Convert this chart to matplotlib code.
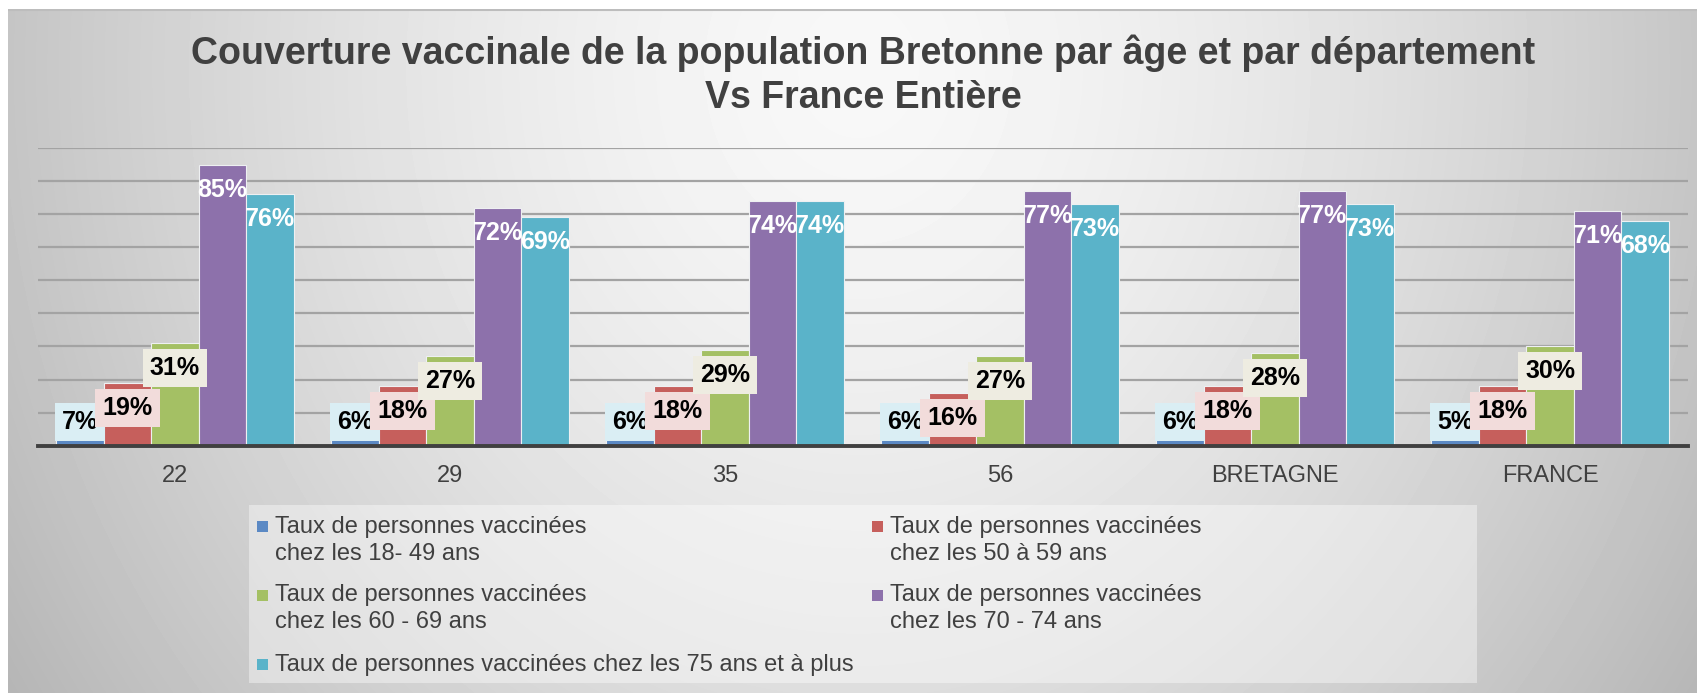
import matplotlib
matplotlib.use("Agg")
import matplotlib.pyplot as plt
import numpy as np
from matplotlib.patches import Rectangle

plt.rcParams['font.family'] = ['Liberation Sans', 'DejaVu Sans']

# data
categories = ['22', '29', '35', '56', 'BRETAGNE', 'FRANCE']
t18_49_label = [7, 6, 6, 6, 6, 5]
t18_49_bar = [2.2, 2.2, 2.2, 2.2, 2.2, 2.2]   # bars drawn shorter than their labels
t50_59 = [19, 18, 18, 16, 18, 18]
t60_69 = [31, 27, 29, 27, 28, 30]
t70_74 = [85, 72, 74, 77, 77, 71]
t75_plus = [76, 69, 74, 73, 73, 68]

series_names = ['Taux de personnes vaccinées\nchez les 18- 49 ans',
                'Taux de personnes vaccinées\nchez les 50 à 59 ans',
                'Taux de personnes vaccinées\nchez les 60 - 69 ans',
                'Taux de personnes vaccinées\nchez les 70 - 74 ans',
                'Taux de personnes vaccinées chez les 75 ans et à plus']

bar_heights = [t18_49_bar, t50_59, t60_69, t70_74, t75_plus]
bar_labels = [t18_49_label, t50_59, t60_69, t70_74, t75_plus]
colors = ['#5b89c4', '#c65f5c', '#a4c064', '#8d71ab', '#5ab3c9']
label_box = ['#daeef4', '#f2dcdb', '#eeece1', None, None]
label_color = ['black', 'black', 'black', 'white', 'white']

W, H = 1697, 693
fig = plt.figure(figsize=(W / 100, H / 100), dpi=100)
fig.patch.set_facecolor('white')

# slide background with a soft radial gradient
bg = fig.add_axes([8 / W, 0, 1 - 8 / W, 1 - 9 / H])
xx, yy = np.meshgrid(np.arange(W - 8), np.arange(H - 9))
d = np.sqrt(((xx - 850) / 880.0) ** 2 + ((yy - 60) / 1000.0) ** 2)
shade = (248 - 54 * np.clip(d, 0, 1.2) ** 1.5) / 255.0
bg.imshow(shade, cmap='gray', vmin=0, vmax=1, aspect='auto', interpolation='bilinear')
bg.axhline(0, color='#bdbdbd', lw=1.5)
bg.set_axis_off()

ax = fig.add_axes([37.5 / W, 1 - 445.7 / H, 1650 / W, (445.7 - 148) / H])
ax.set_facecolor('none')

x = np.arange(len(categories))
w = 47.5 / 275
for i, (h, c) in enumerate(zip(bar_heights, colors)):
    ax.bar(x + (i - 2) * w, h, width=w, color=c, edgecolor='#eef0f2', linewidth=0.8, zorder=3)

ax.set_xlim(-0.5, len(categories) - 0.5)
ax.set_ylim(0, 90)
ax.set_yticks(np.arange(10, 91, 10))
ax.yaxis.grid(True, color='#a3a3a3', lw=1.6)
ax.set_axisbelow(True)
ax.tick_params(axis='y', left=False, labelleft=False)
ax.tick_params(axis='x', length=0, pad=14, labelsize=17, labelcolor='#404040')
ax.set_xticks(x)
ax.set_xticklabels(categories)
for s in ['top', 'right', 'left']:
    ax.spines[s].set_visible(False)
ax.spines['bottom'].set_color('#404040')
ax.spines['bottom'].set_linewidth(2.8)
ax.spines['bottom'].set_zorder(4)

# data labels: inside end, pushed up when the bar is too short
for i, (h, labs) in enumerate(zip(bar_heights, bar_labels)):
    for j in range(len(categories)):
        xp = x[j] + (i - 2) * w
        top_px = ax.transData.transform((xp, h[j]))[1] - ax.transData.transform((xp, 0))[1]
        center_px = max(top_px - 25, 24)
        bbox = None
        if label_box[i]:
            bbox = dict(boxstyle='square,pad=0.28', fc=label_box[i], ec='none')
        ax.annotate(f'{labs[j]}%', xy=(xp, 0), xytext=(0, center_px * 0.72),
                    textcoords='offset points', ha='center', va='center',
                    fontsize=18, fontweight='bold', color=label_color[i],
                    bbox=bbox, zorder=5)

fig.text(863.5 / W, 1 - 75 / H,
         'Couverture vaccinale de la population Bretonne par âge et par département\nVs France Entière',
         ha='center', va='center', fontsize=27, fontweight='bold', color='#404040',
         linespacing=1.28)

# legend box
lg = fig.add_axes([249 / W, 10 / H, 1228 / W, 178 / H])
lg.set_xlim(249, 1477)
lg.set_ylim(683, 505)
lg.set_axis_off()
lg.add_patch(Rectangle((249, 505), 1228, 178, fc='white', alpha=0.4, ec='none'))
entries = [(257, 526.5), (872, 526.5), (257, 595.5), (872, 595.5), (257, 664.5)]
for (mx, my), name, c in zip(entries, series_names, colors):
    lg.add_patch(Rectangle((mx, my - 5.5), 11, 11, fc=c, ec='none'))
    for k, line in enumerate(name.split('\n')):
        lg.text(mx + 18, my + k * 27, line, ha='left', va='center',
                fontsize=17, color='#404040')

fig.savefig('out.png', dpi=100)
